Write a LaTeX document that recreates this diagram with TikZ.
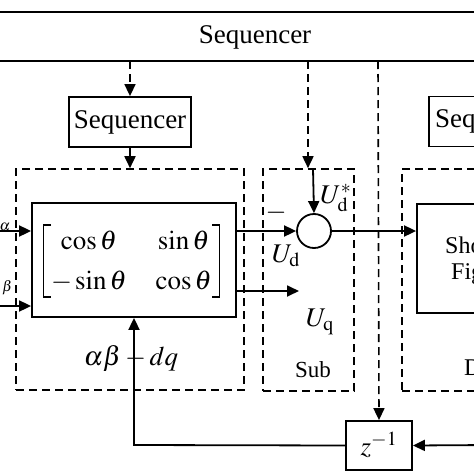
\documentclass[tikz,border=0pt]{standalone}
\usepackage{amsmath}
\usepackage{mathptmx}
\usepackage{fontspec}
\setmainfont{Liberation Serif}
\usetikzlibrary{arrows.meta}
\tikzset{
  base/.style={line width=1.8pt},
  blk/.style={base, draw, rectangle, inner sep=0pt},
  grp/.style={line width=1.6pt, draw, dash pattern=on 8pt off 5pt},
  dline/.style={line width=1.6pt, dash pattern=on 8pt off 5pt},
  arr/.style={-{Triangle[length=12pt,width=11pt]}},
  brk/.style={line width=1.3pt},
  lbl/.style={inner sep=0pt, font=\fontsize{27}{30}\selectfont},
}
\begin{document}
\begin{tikzpicture}[x=1pt,y=-1pt]
\useasboundingbox (0,0) rectangle (474,474);
\fill[white] (0,0) rectangle (474,474);
\clip (0,0) rectangle (474,474);
% top sequencer bar
\draw[base] (-10,12) -- (490,12);
\draw[base] (-10,61) -- (490,61);
\node[lbl] (seqbar) at (255,37) {Sequencer};
\coordinate (t1) at (130,61);
\coordinate (t2) at (308,61);
\coordinate (t3) at (378,61);
% blocks
\node[blk, minimum width=122pt, minimum height=50pt, font=\fontsize{27}{30}\selectfont] (seq1) at (130,122) {Sequencer};
\node[blk, minimum width=140pt, minimum height=50pt, font=\fontsize{27}{30}\selectfont, text width=128pt, align=left] (seq2) at (499,121.5) {Sequencer};
\node[grp, minimum width=228pt, minimum height=221pt] (dqg) at (130,279.5) {};
\node[blk, minimum width=204pt, minimum height=114pt] (mat) at (134,260) {};
\node[inner sep=0pt, font=\fontsize{27}{40}\selectfont] (matx) at (131.5,261) {\setlength\arraycolsep{14.5pt}$\begin{matrix} \cos\theta & \sin\theta \\ -\sin\theta & \cos\theta \end{matrix}$};
% matrix brackets
\draw[brk] (51,225) -- (43.5,225) -- (43.5,297) -- (51,297);
\draw[brk] (212,225) -- (219.5,225) -- (219.5,297) -- (212,297);
\node[grp, minimum width=91pt, minimum height=222pt] (subg) at (308.5,280) {};
\node[base, draw, circle, minimum size=34pt, inner sep=0pt] (sum) at (314,231) {};
\node[grp, minimum width=140pt, minimum height=222pt] (dispg) at (472,280) {};
\node[blk, minimum width=120pt, minimum height=109pt] (show) at (477,258.5) {};
\node[inner sep=0pt, font=\fontsize{24}{28}\selectfont, anchor=west] (showt) at (445,245) {Show};
\node[inner sep=0pt, font=\fontsize{24}{28}\selectfont, anchor=west] (figt) at (451,274) {Figure};
\node[inner sep=0pt, font=\fontsize{24}{28}\selectfont, anchor=west] (dispt) at (464,370) {Display};
\node[blk, minimum width=66pt, minimum height=49pt] (zinv) at (379,445.5) {};
\node[lbl] (zt) at (379,445) {$z^{-1}$};
% labels
\node[lbl] (sub) at (313,370) {\fontsize{23}{26}\selectfont Sub};
\node[lbl, anchor=west] (udst) at (320,198) {$U_{\mathrm{d}}^{*}$};
\node[lbl] (minus) at (276,213) {$-$};
\node[lbl] (ud) at (286,256) {$U_{\mathrm{d}}$};
\node[lbl] (uq) at (320,322) {$U_{\mathrm{q}}$};
\node[lbl] (abdq) at (131,358) {$\alpha\beta - dq$};
\node[lbl, anchor=east, font=\fontsize{20}{24}\selectfont] (ua) at (11,223) {$U_{\hspace{6pt}\alpha}$};
\node[lbl, anchor=east, font=\fontsize{20}{24}\selectfont] (ub) at (13,285) {$U_{\hspace{6pt}\beta}$};
% connectors
\draw[dline, arr] (t1) -- (seq1.north);
\draw[base, arr] (seq1.south) -- (seq1.south |- dqg.north);
\draw[dline, arr] (t2) -- (t2 |- subg.north);
\coordinate (s1) at (313,169);
\draw[base, arr] (s1) -- (sum.north);
\draw[dline, arr] (t3) -- (zinv.north);
\draw[base, arr] (mat.east |- sum.west) -- (sum.west);
\coordinate (q0) at (236,291);
\coordinate (q1) at (299,291);
\draw[base, arr] (q0) -- (q1);
\draw[base, arr] (sum.east) -- (show.west |- sum.east);
\coordinate (r0) at (490,445);
\draw[base, arr] (r0) -- (zinv.east);
\coordinate (fb) at (134,445);
\draw[base, arr] (zinv.west) -- (fb) -- (mat.south);
\coordinate (i1) at (-10,231);
\coordinate (i2) at (-10,306);
\draw[base, arr] (i1) -- (mat.west |- i1);
\draw[base, arr] (i2) -- (mat.west |- i2);
\end{tikzpicture}
\end{document}
